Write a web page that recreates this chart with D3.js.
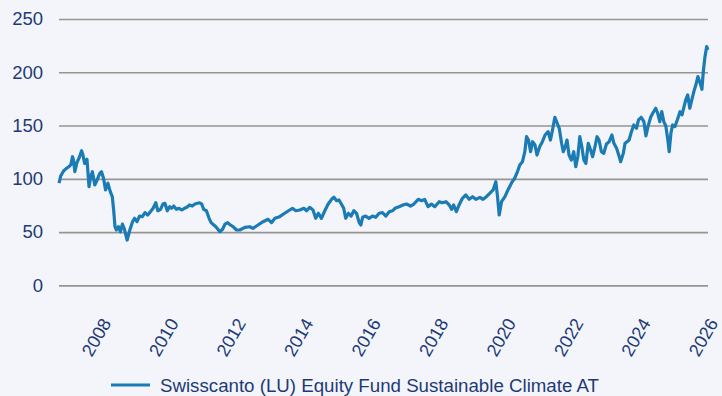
<!DOCTYPE html>
<html>
<head>
<meta charset="utf-8">
<script src="https://cdn.jsdelivr.net/npm/d3@7"></script>
<style>
  html, body { margin: 0; padding: 0; background: #f4f5fa; }
  svg { display: block; font-family: "Liberation Sans", Arial, sans-serif; }
</style>
</head>
<body>
<svg id="chart" width="722" height="396"></svg>
<script>
// Fund price index (decimal year, index level)
const dates = [
  2007.15, 2007.20, 2007.29, 2007.37, 2007.44, 2007.50, 2007.55, 2007.58, 2007.62, 2007.68,
  2007.76, 2007.82, 2007.86, 2007.91, 2007.98, 2008.04, 2008.09, 2008.14, 2008.21, 2008.28,
  2008.36, 2008.41, 2008.47, 2008.53, 2008.60, 2008.67, 2008.73, 2008.77, 2008.81, 2008.85,
  2008.91, 2008.97, 2009.03, 2009.09, 2009.17, 2009.25, 2009.33, 2009.39, 2009.46, 2009.54,
  2009.62, 2009.70, 2009.78, 2009.86, 2009.94, 2010.02, 2010.08, 2010.16, 2010.23, 2010.29,
  2010.36, 2010.43, 2010.49, 2010.55, 2010.63, 2010.71, 2010.79, 2010.87, 2010.94, 2011.02,
  2011.10, 2011.18, 2011.26, 2011.32, 2011.38, 2011.44, 2011.52, 2011.60, 2011.66, 2011.74,
  2011.80, 2011.86, 2011.92, 2012.00, 2012.07, 2012.15, 2012.23, 2012.31, 2012.41, 2012.51,
  2012.66, 2012.80, 2012.90, 2013.05, 2013.20, 2013.35, 2013.45, 2013.55, 2013.69, 2013.84,
  2013.99, 2014.07, 2014.17, 2014.29, 2014.41, 2014.49, 2014.58, 2014.68, 2014.76, 2014.84,
  2014.93, 2015.03, 2015.13, 2015.23, 2015.30, 2015.38, 2015.45, 2015.52, 2015.59, 2015.65,
  2015.73, 2015.81, 2015.89, 2015.97, 2016.05, 2016.10, 2016.15, 2016.24, 2016.34, 2016.44,
  2016.54, 2016.64, 2016.74, 2016.84, 2016.94, 2017.04, 2017.11, 2017.23, 2017.35, 2017.45,
  2017.57, 2017.67, 2017.80, 2017.90, 2017.99, 2018.09, 2018.19, 2018.29, 2018.42, 2018.52,
  2018.62, 2018.72, 2018.79, 2018.85, 2018.93, 2019.01, 2019.11, 2019.21, 2019.31, 2019.41,
  2019.51, 2019.63, 2019.72, 2019.82, 2019.92, 2020.02, 2020.10, 2020.15, 2020.20, 2020.27,
  2020.37, 2020.46, 2020.57, 2020.66, 2020.73, 2020.81, 2020.89, 2020.96, 2021.01, 2021.07,
  2021.13, 2021.19, 2021.26, 2021.32, 2021.40, 2021.48, 2021.56, 2021.65, 2021.72, 2021.78,
  2021.85, 2021.92, 2021.98, 2022.05, 2022.10, 2022.16, 2022.21, 2022.27, 2022.34, 2022.41,
  2022.47, 2022.53, 2022.59, 2022.65, 2022.71, 2022.77, 2022.84, 2022.91, 2022.97, 2023.04,
  2023.10, 2023.16, 2023.23, 2023.30, 2023.38, 2023.46, 2023.54, 2023.60, 2023.68, 2023.76,
  2023.80, 2023.88, 2023.93, 2023.99, 2024.05, 2024.12, 2024.19, 2024.27, 2024.33, 2024.41,
  2024.49, 2024.55, 2024.61, 2024.69, 2024.76, 2024.84, 2024.90, 2024.96, 2025.02, 2025.08,
  2025.14, 2025.20, 2025.24, 2025.29, 2025.34, 2025.41, 2025.48, 2025.56, 2025.62, 2025.68,
  2025.73, 2025.79, 2025.85, 2025.91, 2025.97, 2026.03, 2026.09, 2026.15, 2026.21, 2026.25,
  2026.30, 2026.35, 2026.39
];
const values = [
  96.0, 102.6, 107.6, 109.8, 111.3, 113.0, 120.7, 117.6, 106.6, 115.0,
  120.7, 126.4, 122.3, 114.5, 118.3, 92.6, 102.0, 106.6, 94.2, 98.9,
  105.1, 106.6, 100.5, 89.5, 95.8, 87.9, 83.2, 70.7, 55.0, 51.9,
  55.0, 50.3, 57.5, 52.6, 42.5, 51.9, 59.7, 62.9, 59.7, 65.0,
  64.4, 68.2, 66.0, 69.1, 72.3, 77.5, 70.0, 71.3, 76.3, 77.0,
  70.0, 73.8, 72.3, 74.4, 71.3, 72.3, 70.7, 72.3, 73.2, 75.4,
  74.4, 76.3, 77.0, 77.5, 76.3, 71.3, 70.0, 62.9, 58.8, 56.6,
  55.0, 52.6, 50.3, 52.6, 57.5, 58.8, 56.6, 55.0, 51.9, 51.9,
  54.4, 55.0, 53.5, 56.6, 59.7, 62.0, 58.8, 62.9, 64.4, 67.6,
  70.7, 72.3, 70.0, 70.7, 72.3, 70.0, 73.2, 70.7, 62.9, 67.6,
  62.9, 70.0, 76.3, 80.7, 82.6, 79.4, 80.1, 76.3, 72.3, 62.9,
  67.6, 65.0, 70.0, 67.6, 58.8, 56.6, 63.8, 65.0, 62.9, 65.0,
  63.8, 67.6, 68.2, 65.0, 69.1, 70.0, 72.3, 73.8, 75.4, 76.3,
  74.4, 76.3, 80.7, 79.4, 80.7, 73.8, 76.3, 73.8, 78.5, 77.5,
  78.5, 75.4, 71.3, 75.4, 69.1, 75.4, 81.7, 84.8, 80.7, 83.2,
  80.7, 82.6, 80.7, 83.2, 86.4, 89.5, 97.3, 83.2, 66.0, 78.5,
  83.2, 89.5, 96.3, 100.5, 105.7, 112.9, 116.0, 125.4, 139.5, 136.4,
  125.4, 134.8, 131.7, 122.3, 130.1, 134.8, 141.1, 144.2, 136.4, 145.8,
  157.7, 152.1, 147.4, 133.3, 125.4, 130.1, 136.4, 122.3, 117.6, 125.4,
  111.3, 120.7, 139.5, 130.1, 117.6, 114.5, 133.3, 127.0, 120.7, 130.1,
  139.5, 136.4, 125.4, 123.9, 132.6, 134.8, 141.1, 133.3, 128.6, 120.7,
  116.0, 123.9, 133.3, 134.8, 136.4, 144.2, 150.5, 147.4, 155.2, 157.7,
  153.6, 140.2, 149.0, 157.7, 162.0, 166.2, 161.5, 153.6, 163.0, 153.6,
  149.6, 136.4, 125.4, 142.7, 150.5, 149.0, 155.2, 163.0, 160.0, 167.7,
  174.0, 178.7, 166.2, 174.0, 181.8, 188.0, 195.9, 190.5, 184.0, 200.5,
  214.6, 224.0, 221.0
];
const yTicks = [0, 50, 100, 150, 200, 250];
const xTicks = [2008, 2010, 2012, 2014, 2016, 2018, 2020, 2022, 2024, 2026];
const seriesName = "Swisscanto (LU) Equity Fund Sustainable Climate AT";

const lineColor = "#1a7bb5";
const textColor = "#1c3a78";
const gridColor = "#97958f";

const svg = d3.select("#chart");
const plotLeft = 59, plotRight = 708, plotTop = 19, plotBottom = 285.3;

const x = d3.scaleLinear().domain(d3.extent(dates)).range([plotLeft, plotRight]);
const y = d3.scaleLinear().domain([0, 250]).range([plotBottom, plotTop]);

// horizontal grid + value labels
const yAxis = d3.axisLeft(y).tickValues(yTicks).tickSize(-(plotRight - plotLeft)).tickPadding(16);
const gy = svg.append("g").attr("transform", `translate(${plotLeft},0)`).call(yAxis);
gy.select(".domain").remove();
gy.selectAll(".tick line").attr("stroke", gridColor).attr("stroke-width", 1.7);
gy.selectAll(".tick text")
  .attr("fill", textColor)
  .attr("font-size", "18.5px")
  .attr("font-family", "'Liberation Sans', Arial, sans-serif");

// rotated year labels
svg.append("g").selectAll("text")
  .data(xTicks)
  .join("text")
  .attr("transform", d => `translate(${x(d) + 24},323) rotate(-60)`)
  .attr("text-anchor", "end")
  .attr("fill", textColor)
  .attr("font-size", "18px")
  .text(d => d);

// price line
const series = dates.map((d, i) => [d, values[i]]);
svg.append("path")
  .datum(series)
  .attr("fill", "none")
  .attr("stroke", lineColor)
  .attr("stroke-width", 3.2)
  .attr("stroke-linejoin", "round")
  .attr("d", d3.line().x(d => x(d[0])).y(d => y(d[1])));

// legend
const lg = svg.append("g");
lg.append("line")
  .attr("x1", 111).attr("x2", 150).attr("y1", 385).attr("y2", 385)
  .attr("stroke", lineColor).attr("stroke-width", 3);
lg.append("text")
  .attr("x", 160).attr("y", 391.5)
  .attr("fill", textColor)
  .attr("font-size", "18.7px")
  .text(seriesName);
</script>
</body>
</html>
